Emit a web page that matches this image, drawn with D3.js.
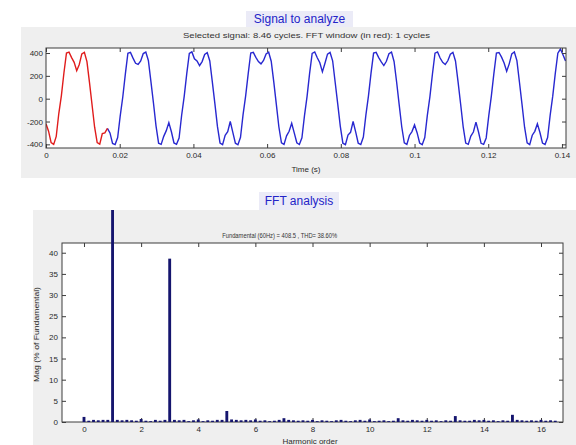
<!DOCTYPE html>
<html><head><meta charset="utf-8">
<script src="https://cdn.jsdelivr.net/npm/d3@7"></script>
<style>
html,body{margin:0;padding:0;background:#fff;}
svg{display:block;font-family:"Liberation Sans",Arial,Helvetica,sans-serif;}
</style>
</head><body>
<svg id="c" width="576" height="445"></svg>
<script>
// ---------- DATA ----------
const signalTitle = "Signal to analyze";
const signalSubtitle = "Selected signal: 8.46 cycles. FFT window (in red): 1 cycles";
const fftTitle = "FFT analysis";
const fftSubtitle = "Fundamental (60Hz) = 408.5 , THD= 38.60%";
const signalXLabel = "Time (s)";
const fftXLabel = "Harmonic order";
const fftYLabel = "Mag (% of Fundamental)";

const sampleTime = 1/1440;     // s between samples
const fftWindowSamples = 25;   // first cycle (red)
const signalValues = [
 -220,-285,-385,-400,-330,-130,25,225,400,408,360,318,245,300,392,406,325,140,-55,-250,-385,-398,-305,-300,
 -260,-300,-392,-402,-340,-150,15,215,398,405,355,310,300,330,395,408,335,150,-40,-240,-390,-400,-330,-280,
 -210,-290,-388,-400,-345,-145,20,220,396,410,350,330,290,325,388,404,330,145,-45,-245,-388,-402,-320,-290,
 -200,-295,-390,-404,-338,-140,22,218,400,406,362,325,305,335,392,407,328,148,-50,-248,-386,-400,-325,-285,
 -215,-300,-386,-401,-342,-148,18,222,397,409,358,315,235,310,390,405,332,142,-48,-242,-390,-403,-318,-295,
 -200,-290,-390,-402,-336,-142,24,224,399,406,360,322,290,328,394,408,326,146,-52,-246,-387,-401,-322,-288,
 -230,-298,-388,-403,-340,-146,16,216,398,410,356,318,300,332,390,406,330,150,-44,-244,-389,-400,-328,-292,
 -205,-292,-391,-400,-344,-150,20,220,400,405,364,312,240,305,393,409,334,144,-50,-250,-386,-402,-320,-286,
 -220,-296,-389,-402,-340,-144,22,222,398,435,385,330
];
const signalXTicks = [0,0.02,0.04,0.06,0.08,0.1,0.12,0.14];
const signalXTickLabels = ["0","0.02","0.04","0.06","0.08","0.1","0.12","0.14"];
const signalYTicks = [-400,-200,0,200,400];

const fftBinStep = 1/6;   // harmonic order between bins
const fftMag = [
 1.2,0.3,0.5,0.4,0.5,0.5,
 100,0.5,0.4,0.5,0.4,0.3,
 0.7,0.3,0.2,0.5,0.3,0.5,
 38.6,0.5,0.4,0.5,0.2,0.4,
 0.6,0.2,0.4,0.3,0.5,0.5,
 2.6,0.6,0.5,0.4,0.5,0.4,
 0.6,0.3,0.4,0.2,0.3,0.5,
 0.9,0.5,0.4,0.3,0.4,0.3,
 0.5,0.2,0.4,0.3,0.2,0.4,
 0.5,0.3,0.2,0.4,0.5,0.3,
 0.6,0.2,0.3,0.4,0.2,0.3,
 0.9,0.4,0.3,0.5,0.4,0.3,
 0.5,0.3,0.4,0.2,0.4,0.3,
 1.4,0.4,0.3,0.3,0.5,0.4,
 0.5,0.3,0.4,0.2,0.4,0.3,
 1.7,0.5,0.4,0.3,0.4,0.3,
 0.5,0.3,0.4,0.3
];
const fftXTicks = [0,2,4,6,8,10,12,14,16];
const fftYTicks = [0,5,10,15,20,25,30,35,40];

// ---------- LAYOUT ----------
const svg = d3.select("#c");
const grey = "#efefef", axisCol = "#3c3c3c", txtCol = "#2a2a2a";
const T = {l:46, r:566, t:48, b:148};
const B = {l:62, r:563, t:243, b:422};

svg.append("rect").attr("x",21).attr("y",27).attr("width",555).attr("height",151).attr("fill",grey);
svg.append("rect").attr("x",33).attr("y",210).attr("width",543).attr("height",235).attr("fill",grey);

function title(txt, cx, by, bx, bw, bt, bh){
  svg.append("rect").attr("x",bx).attr("y",bt).attr("width",bw).attr("height",bh).attr("fill","#ebebf7");
  svg.append("text").attr("x",cx).attr("y",by).attr("text-anchor","middle")
    .attr("font-size",12).attr("fill","#2323c8").text(txt);
}
title(signalTitle, 299.5, 23, 246, 107, 11, 16);
title(fftTitle, 299, 205, 259, 80, 192, 18);

svg.append("text").attr("x",306.5).attr("y",38).attr("text-anchor","middle")
  .attr("font-size",7.8).attr("fill","#333").attr("textLength",247).attr("lengthAdjust","spacingAndGlyphs")
  .text(signalSubtitle);
svg.append("text").attr("x",279.7).attr("y",237.5).attr("text-anchor","middle")
  .attr("font-size",7.6).attr("fill","#333").attr("textLength",115).attr("lengthAdjust","spacingAndGlyphs")
  .text(fftSubtitle);

// ---------- TOP: signal ----------
const xs = d3.scaleLinear().domain([0,0.1411]).range([T.l,T.r]);
const ys = d3.scaleLinear().domain([-432,444]).range([T.b,T.t]);
svg.append("rect").attr("x",T.l).attr("y",T.t).attr("width",T.r-T.l).attr("height",T.b-T.t).attr("fill","#fff");
svg.append("clipPath").attr("id","cpT").append("rect")
  .attr("x",T.l).attr("y",T.t).attr("width",T.r-T.l).attr("height",T.b-T.t);
const sig = signalValues.map((v,i)=>({t:i*sampleTime, v}));
const line = d3.line().x(d=>xs(d.t)).y(d=>ys(d.v));
const gT = svg.append("g").attr("clip-path","url(#cpT)");
gT.append("path").datum(sig.slice(fftWindowSamples-1)).attr("d",line)
  .attr("fill","none").attr("stroke","#2828d0").attr("stroke-width",1.4).attr("stroke-linejoin","miter");
gT.append("path").datum(sig.slice(0,fftWindowSamples)).attr("d",line)
  .attr("fill","none").attr("stroke","#e01c1c").attr("stroke-width",1.4).attr("stroke-linejoin","miter");

function styleAxis(g){
  g.select(".domain").remove();
  g.selectAll("line").attr("stroke",axisCol);
  g.selectAll("text").attr("fill",txtCol).attr("font-size",8).attr("font-family",null);
}
svg.append("g").attr("transform",`translate(0,${T.b})`)
  .call(d3.axisBottom(xs).tickValues(signalXTicks).tickFormat((d,i)=>signalXTickLabels[i]).tickSizeInner(-4).tickSizeOuter(0).tickPadding(4))
  .call(styleAxis);
svg.append("g").attr("transform",`translate(0,${T.t})`)
  .call(d3.axisTop(xs).tickValues(signalXTicks).tickFormat("").tickSizeInner(-4).tickSizeOuter(0))
  .call(styleAxis);
svg.append("g").attr("transform",`translate(${T.l},0)`)
  .call(d3.axisLeft(ys).tickValues(signalYTicks).tickFormat(d=>String(d)).tickSizeInner(-4).tickSizeOuter(0).tickPadding(3))
  .call(styleAxis);
svg.append("g").attr("transform",`translate(${T.r},0)`)
  .call(d3.axisRight(ys).tickValues(signalYTicks).tickFormat("").tickSizeInner(-4).tickSizeOuter(0))
  .call(styleAxis);
svg.append("rect").attr("x",T.l).attr("y",T.t).attr("width",T.r-T.l).attr("height",T.b-T.t)
  .attr("fill","none").attr("stroke",axisCol).attr("stroke-width",1);
svg.append("text").attr("x",(T.l+T.r)/2).attr("y",172).attr("text-anchor","middle")
  .attr("font-size",8).attr("fill",txtCol).text(signalXLabel);

// ---------- BOTTOM: FFT ----------
const xb = d3.scaleLinear().domain([-0.77,16.77]).range([B.l,B.r]);
const yb = d3.scaleLinear().domain([0,42.3]).range([B.b,B.t]);
svg.append("rect").attr("x",B.l).attr("y",B.t).attr("width",B.r-B.l).attr("height",B.b-B.t).attr("fill","#fff");
svg.append("clipPath").attr("id","cpB").append("rect")
  .attr("x",B.l).attr("y",210).attr("width",B.r-B.l).attr("height",B.b-210);
const bins = fftMag.map((m,i)=>({h:i*fftBinStep, m}));
const bw = (xb(fftBinStep)-xb(0))*0.6;

svg.append("g").attr("transform",`translate(0,${B.b})`)
  .call(d3.axisBottom(xb).tickValues(fftXTicks).tickSizeInner(-4).tickSizeOuter(0).tickPadding(4))
  .call(styleAxis);
svg.append("g").attr("transform",`translate(0,${B.t})`)
  .call(d3.axisTop(xb).tickValues(fftXTicks).tickFormat("").tickSizeInner(-4).tickSizeOuter(0))
  .call(styleAxis);
svg.append("g").attr("transform",`translate(${B.l},0)`)
  .call(d3.axisLeft(yb).tickValues(fftYTicks).tickSizeInner(-4).tickSizeOuter(0).tickPadding(4))
  .call(styleAxis);
svg.append("g").attr("transform",`translate(${B.r},0)`)
  .call(d3.axisRight(yb).tickValues(fftYTicks).tickFormat("").tickSizeInner(-4).tickSizeOuter(0))
  .call(styleAxis);
svg.append("rect").attr("x",B.l).attr("y",B.t).attr("width",B.r-B.l).attr("height",B.b-B.t)
  .attr("fill","none").attr("stroke",axisCol).attr("stroke-width",1);
svg.append("g").attr("clip-path","url(#cpB)").selectAll("rect").data(bins).join("rect")
  .attr("x",d=>xb(d.h)-bw/2).attr("width",bw)
  .attr("y",d=>yb(d.m)).attr("height",d=>B.b-yb(d.m))
  .attr("fill","#15156e");

svg.append("text").attr("x",310).attr("y",444).attr("text-anchor","middle")
  .attr("font-size",8).attr("fill",txtCol).text(fftXLabel);
svg.append("text").attr("transform","translate(38.5,334.5) rotate(-90)").attr("text-anchor","middle")
  .attr("font-size",7).attr("fill",txtCol).attr("textLength",95).attr("lengthAdjust","spacingAndGlyphs")
  .text(fftYLabel);
</script>
</body></html>
